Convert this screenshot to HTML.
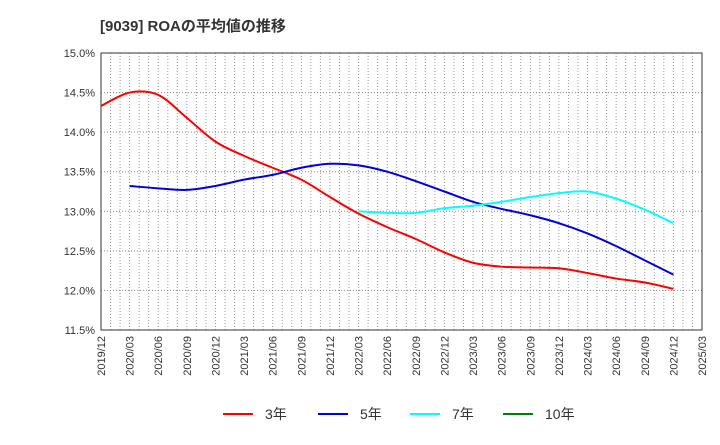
<!DOCTYPE html>
<html><head><meta charset="utf-8"><style>
body{margin:0;background:#fff;font-family:"Liberation Sans","Noto Sans CJK JP",sans-serif;}
</style></head><body>
<svg id="chart" width="720" height="440" xmlns="http://www.w3.org/2000/svg">
<text x="100" y="31" font-size="15" font-weight="bold" fill="#333">[9039]  ROAの平均値の推移</text>
<g id="grid"></g><g id="axes"></g><g id="series"></g><g id="legend"></g>
</svg>
<script>
const xLabels=["2019/12","2020/03","2020/06","2020/09","2020/12","2021/03","2021/06","2021/09","2021/12","2022/03","2022/06","2022/09","2022/12","2023/03","2023/06","2023/09","2023/12","2024/03","2024/06","2024/09","2024/12","2025/03"];
const yTicks=[11.5,12.0,12.5,13.0,13.5,14.0,14.5,15.0];
const roa3=[14.33,14.50,14.47,14.18,13.88,13.70,13.55,13.40,13.18,12.97,12.80,12.65,12.48,12.35,12.30,12.29,12.28,12.22,12.15,12.10,12.02];
const roa5=[null,13.32,13.29,13.27,13.32,13.40,13.46,13.55,13.60,13.58,13.50,13.38,13.25,13.12,13.03,12.95,12.85,12.72,12.56,12.38,12.20];
const roa7=[null,null,null,null,null,null,null,null,null,13.00,12.98,12.98,13.04,13.07,13.12,13.18,13.23,13.25,13.16,13.02,12.85];
const roa10=[];
const L=101,R=702,T=53,B=330,NS="http://www.w3.org/2000/svg";
const xs=i=>L+(R-L)*i/(xLabels.length-1);
const ys=v=>B-(B-T)*(v-11.5)/3.5;
function mk(tag,attrs,parent){const e=document.createElementNS(NS,tag);for(const k in attrs)e.setAttribute(k,attrs[k]);parent.appendChild(e);return e;}
const grid=document.getElementById('grid'),axes=document.getElementById('axes'),ser=document.getElementById('series'),leg=document.getElementById('legend');
for(let m=1;m<(xLabels.length-1)*3;m++){const x=L+(R-L)*m/((xLabels.length-1)*3);
const g=mk('line',{x1:x,x2:x,y1:T,y2:B,stroke:'#999','stroke-dasharray':'1,2','stroke-width':1},grid);

}
yTicks.forEach(v=>{const y=ys(v);
const g=mk('line',{x1:L,x2:R,y1:y,y2:y,stroke:'#888','stroke-dasharray':'1,2','stroke-width':1},grid);


const t=mk('text',{x:L-6,y:y+4,'font-size':11,'text-anchor':'end',fill:'#333'},axes);t.textContent=v.toFixed(1)+'%';

});
xLabels.forEach((s,i)=>{const x=xs(i);
const t=mk('text',{x:x+4,y:B+6,'font-size':11,'text-anchor':'end',fill:'#333',transform:`rotate(-90 ${x+4} ${B+6})`},axes);t.textContent=s;

});
const fr=mk('rect',{x:L,y:T,width:R-L,height:B-T,fill:'none',stroke:'#333'},axes);


function path(arr){const p=[];arr.forEach((v,i)=>{if(v!=null)p.push([xs(i),ys(v)]);});if(p.length<2)return '';
let d=`M${p[0][0]},${p[0][1]}`;for(let i=0;i<p.length-1;i++){const p0=p[i-1]||p[i],p1=p[i],p2=p[i+1],p3=p[i+2]||p2;
d+=` C${p1[0]+(p2[0]-p0[0])/6},${p1[1]+(p2[1]-p0[1])/6} ${p2[0]-(p3[0]-p1[0])/6},${p2[1]-(p3[1]-p1[1])/6} ${p2[0]},${p2[1]}`;}return d;}
const series=[[roa3,'#ff0000','3年','line-3y'],[roa5,'#0000dd','5年','line-5y'],[roa7,'#00ffff','7年','line-7y'],[roa10,'#008000','10年','line-10y']];
series.forEach(([a,c,n,id],k)=>{const d=path(a);if(d){const pl=mk('path',{d:d,fill:'none',stroke:c,'stroke-width':2},ser);

}
const lx=[223,318,410,503][k];
const g=mk('g',{},leg);


mk('line',{x1:lx,x2:lx+30,y1:414,y2:414,stroke:c,'stroke-width':2},g);
const t=mk('text',{x:lx+42,y:419,'font-size':14,fill:'#333'},g);t.textContent=n;});
</script>
</body></html>
